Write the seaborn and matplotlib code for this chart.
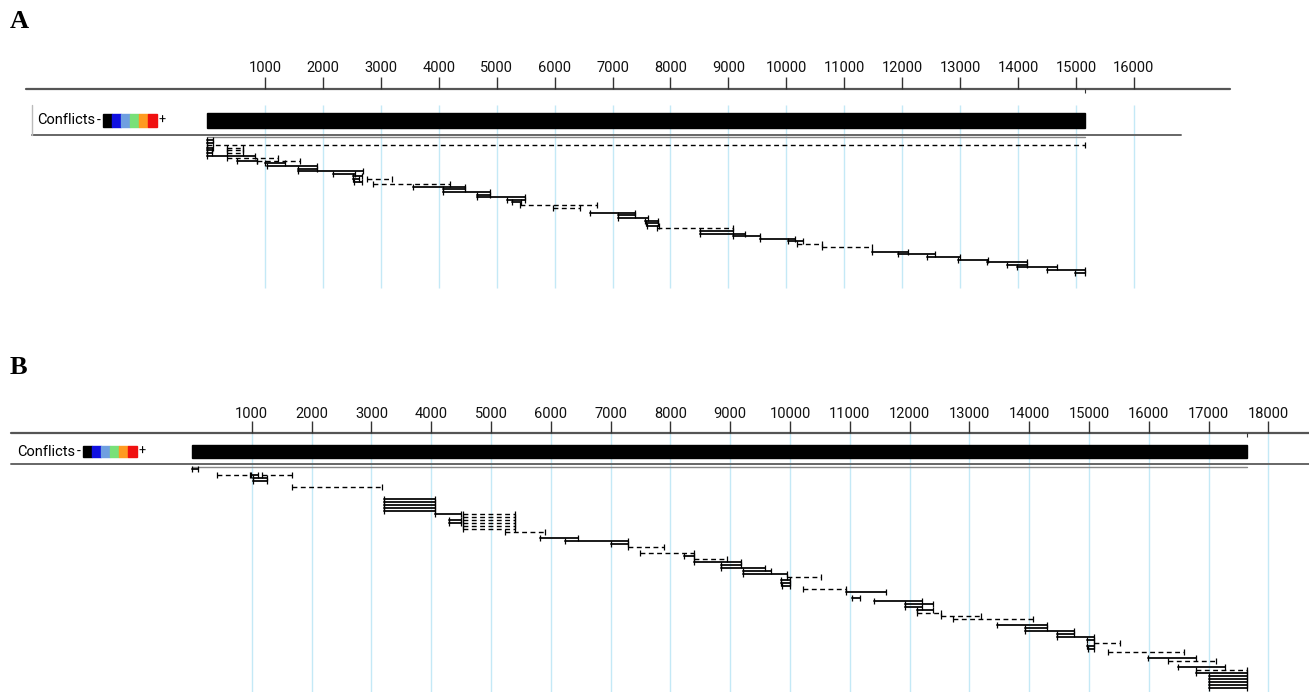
import matplotlib
matplotlib.use("Agg")
import matplotlib.pyplot as plt
import matplotlib.transforms as mtransforms
from matplotlib.patches import Rectangle
import pandas as pd
import seaborn as sns

# contig lengths (bp) and ruler ticks
A_CONTIG_LEN = 15150
B_CONTIG_LEN = 17640
A_TICKS = list(range(1000, 17000, 1000))
B_TICKS = list(range(1000, 19000, 1000))

# panel A reads: solid (paired / aligned) segments
A_SOLID_START = [0, 0, 0, 0, 0, 0, 520, 1000, 1035, 1570, 1570, 2180, 2520, 2520, 2540,
                 3560, 4070, 4070, 4660, 4660, 5180, 5260, 6610, 7100, 7100, 7560, 7580, 7600,
                 8510, 8510, 9080, 9546, 10030, 11480, 11930, 12430, 12970, 13460, 13810,
                 13980, 14500, 14980]
A_SOLID_END = [110, 110, 110, 90, 90, 830, 860, 1350, 1900, 1900, 2690, 2560, 2680, 2620, 2680,
               4450, 4450, 4885, 4885, 5490, 5490, 5420, 7390, 7390, 7610, 7780, 7780, 7800,
               9080, 9290, 9550, 10150, 10290, 12100, 12570, 13000, 13480, 14150, 14150,
               14670, 15150, 15150]
A_SOLID_TRACK = [0, 1, 3, 4, 5, 6, 8, 9, 10, 11, 12, 13, 14, 15, 16,
                 18, 19, 20, 21, 22, 23, 24, 28, 29, 30, 31, 32, 33,
                 35, 36, 37, 38, 39, 43, 44, 45, 46, 47, 48,
                 49, 50, 51]
# panel A reads: dashed (unpaired gap) segments
A_DASH_START = [0, 350, 350, 350, 345, 860, 2760, 2870, 5400, 5980, 7770, 10180, 10616]
A_DASH_END = [15150, 620, 620, 620, 1225, 1600, 3190, 4200, 6730, 6440, 9080, 10620, 11480]
A_DASH_TRACK = [2, 3, 4, 5, 7, 8, 15, 17, 25, 26, 34, 40, 41]

# panel B reads
B_SOLID_START = [0, 980, 1020, 1020, 3210, 3210, 3210, 3210, 3210, 4060, 4300, 4300,
                 5820, 6240, 7000, 8220, 8390, 8850, 8850, 9210, 9210, 9850, 9850, 9870,
                 10940, 11030, 11400, 11930, 11930, 12120, 13460, 13930, 13930, 14460, 14460,
                 14960, 14960, 14980, 15990, 16490, 16790, 17010, 17010, 17010, 17010, 17010]
B_SOLID_END = [100, 1100, 1250, 1250, 4060, 4060, 4060, 4060, 4060, 4500, 4500, 4500,
               6450, 7290, 7290, 8400, 9180, 9180, 9580, 9680, 9950, 10000, 10000, 10000,
               11600, 11170, 12200, 12390, 12200, 12390, 14300, 14300, 14750, 14750, 15080,
               15080, 15080, 15080, 16790, 17270, 17640, 17640, 17640, 17640, 17640, 17640]
B_SOLID_TRACK = [0, 2, 3, 4, 10, 11, 12, 13, 14, 15, 17, 18,
                 23, 24, 25, 29, 31, 32, 33, 34, 35, 37, 38, 39,
                 41, 43, 44, 45, 46, 47, 52, 53, 54, 55, 56,
                 57, 59, 60, 63, 66, 68, 69, 70, 71, 72, 73]
B_DASH_START = [420, 1170, 1670, 4530, 4530, 4530, 4530, 4530, 4530, 5230, 7290, 7490,
                8390, 9950, 10220, 12120, 12520, 12720, 15080, 15320, 16320, 16790]
B_DASH_END = [970, 1670, 3180, 5400, 5400, 5400, 5400, 5400, 5400, 5900, 7890, 8390,
              8950, 10520, 10940, 12520, 13190, 14060, 15520, 16590, 17120, 17640]
B_DASH_TRACK = [2, 2, 6, 15, 16, 17, 18, 19, 20, 21, 26, 28,
                30, 36, 40, 48, 49, 50, 58, 61, 64, 67]

CONFLICT_COLORS = ["#000000", "#1010e0", "#6f9fe0", "#78e078", "#ff9a20", "#f01010"]

W, H = 1309, 692

sns.set_theme(style="white")
plt.rcParams["font.family"] = ["Roboto", "DejaVu Sans"]
plt.rcParams["text.color"] = "black"

fig = plt.figure(figsize=(W / 100, H / 100), dpi=100)


def reads_frame(starts, ends, tracks, y0, row_h):
    rows = []
    for i, (s, e, t) in enumerate(zip(starts, ends, tracks)):
        y = y0 + row_h * t
        rows.append({"rid": i, "bp": s, "y": y})
        rows.append({"rid": i, "bp": e, "y": y})
    return pd.DataFrame(rows)


def draw_panel(ax, px0, px_per_bp, top, bottom, letter, letter_y, ticks, contig_len,
               label_y, ruler_y, ruler_x, bar_y0, bar_y1, low_y, low_x, grid_y,
               conf_x, solid, dashed, read_y0, row_h):
    ax.set_xlim(-px0 / px_per_bp, (W - px0) / px_per_bp)
    ax.set_ylim(bottom, top)
    ax.set_axis_off()
    blend = mtransforms.blended_transform_factory(ax.transAxes, ax.transData)
    fx = lambda px: px / W

    # light blue position guides
    ax.vlines(ticks, grid_y[0], grid_y[1], color="#c4e9f6", lw=1, zorder=0)

    # ruler
    ax.plot([fx(ruler_x[0]), fx(ruler_x[1])], [ruler_y, ruler_y], transform=blend,
            color="#555555", lw=1.6, zorder=2)
    ax.vlines(ticks, ruler_y - 12, ruler_y, color="#333333", lw=1, zorder=2)
    ax.vlines([contig_len], ruler_y, ruler_y + 4, color="#333333", lw=0.8)
    for t in ticks:
        ax.text(t, label_y, str(t), ha="center", va="center", fontsize=10.5,
                color="#111111")

    # consensus / conflicts bar
    ax.add_patch(Rectangle((0, bar_y0), contig_len, bar_y1 - bar_y0, color="black", zorder=3))
    ax.plot([fx(low_x[0]), fx(low_x[1])], [low_y, low_y], transform=blend,
            color="#666666", lw=1.4, zorder=2)
    ax.plot([0, contig_len], [low_y + 2.5, low_y + 2.5], color="#888888", lw=1, zorder=2)

    cy = (bar_y0 + bar_y1) / 2
    ax.text(fx(conf_x), cy, "Conflicts", transform=blend, ha="left", va="center",
            fontsize=10.5)
    sq_x = conf_x + 66
    ax.text(fx(sq_x - 4), cy, "-", transform=blend, ha="center", va="center", fontsize=10)
    for i, c in enumerate(CONFLICT_COLORS):
        ax.add_patch(Rectangle((fx(sq_x + 9 * i), bar_y0 + 1), fx(9), bar_y1 - bar_y0 - 2,
                               transform=blend, color=c, zorder=3))
    ax.text(fx(sq_x + 9 * len(CONFLICT_COLORS) + 5), cy, "+", transform=blend, ha="center",
            va="center", fontsize=9)

    # reads
    df_s = reads_frame(*solid, read_y0, row_h)
    df_d = reads_frame(*dashed, read_y0, row_h)
    sns.lineplot(data=df_s, x="bp", y="y", units="rid", estimator=None, color="#1a1a1a",
                 lw=1.4, ax=ax, legend=False, zorder=4)
    sns.lineplot(data=df_d, x="bp", y="y", units="rid", estimator=None, color="black",
                 lw=1.0, linestyle=(0, (3.5, 2.5)), ax=ax, legend=False, zorder=4)
    for df in (df_s, df_d):
        ax.plot(df["bp"], df["y"], ls="none", marker="|", ms=4, mew=0.9, color="black", zorder=5)

    ax.text(fx(10), letter_y, letter, transform=blend, ha="left", va="center",
            fontsize=19, fontweight="bold", family=["Liberation Serif", "DejaVu Serif"])


axA = fig.add_axes([0, 1 - 330 / H, 1, 330 / H])
axB = fig.add_axes([0, 0, 1, 362 / H])

draw_panel(axA, 207, 0.05793, 0, 330, "A", 22, A_TICKS, A_CONTIG_LEN,
           label_y=68, ruler_y=89, ruler_x=(26, 1230), bar_y0=113, bar_y1=128,
           low_y=134.5, low_x=(32, 1181), grid_y=(105, 288), conf_x=37,
           solid=(A_SOLID_START, A_SOLID_END, A_SOLID_TRACK),
           dashed=(A_DASH_START, A_DASH_END, A_DASH_TRACK), read_y0=140, row_h=2.6)
axA.plot([32 / W, 32 / W], [105, 135], transform=mtransforms.blended_transform_factory(
    axA.transAxes, axA.transData), color="#bbbbbb", lw=1)

draw_panel(axB, 192, 0.0598, 330, 692, "B", 368, B_TICKS, B_CONTIG_LEN,
           label_y=414, ruler_y=433, ruler_x=(11, 1309), bar_y0=445, bar_y1=458,
           low_y=464, low_x=(11, 1309), grid_y=(433, 692), conf_x=17,
           solid=(B_SOLID_START, B_SOLID_END, B_SOLID_TRACK),
           dashed=(B_DASH_START, B_DASH_END, B_DASH_TRACK), read_y0=469, row_h=3.0)

fig.savefig("out.png", dpi=100)
